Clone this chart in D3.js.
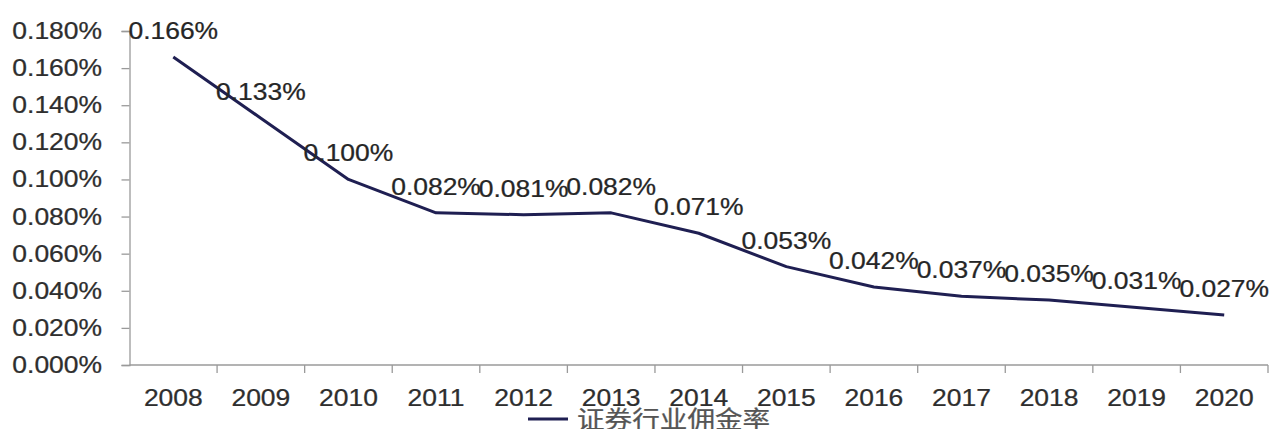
<!DOCTYPE html>
<html>
<head>
<meta charset="utf-8">
<script src="https://cdn.jsdelivr.net/npm/d3@7/dist/d3.min.js"></script>
<style>
  html, body { margin: 0; padding: 0; background: #fff; }
  svg { display: block; }
</style>
</head>
<body>
<svg id="chart" width="1282" height="429"></svg>
<script>
// Commission rate of the securities industry, 2008–2020 (percent)
const years = ["2008","2009","2010","2011","2012","2013","2014","2015","2016","2017","2018","2019","2020"];
const rates = [0.166, 0.133, 0.100, 0.082, 0.081, 0.082, 0.071, 0.053, 0.042, 0.037, 0.035, 0.031, 0.027];
const yTicks = [0, 0.02, 0.04, 0.06, 0.08, 0.10, 0.12, 0.14, 0.16, 0.18];
const seriesName = "证券行业佣金率";

const svg = d3.select("#chart");
const W = 1282, H = 429;
const plotLeft = 129.5, plotRight = 1268, plotTop = 31, plotBottom = 365;
const stretch = 1.15;          // glyphs are drawn slightly wide
const fontFamily = "'Liberation Sans', Arial, sans-serif";
const fontSize = 23;

svg.append("rect").attr("width", W).attr("height", H).attr("fill", "#fff");

const x = d3.scaleBand().domain(years).range([plotLeft, plotRight]).padding(0);
const y = d3.scaleLinear().domain([0, 0.18]).range([plotBottom, plotTop]);

// helper for horizontally widened text
function wideText(g, tx, ty, str, anchor, fill, family, size) {
  return g.append("text")
    .attr("transform", `translate(${tx},${ty}) scale(${stretch},1)`)
    .attr("text-anchor", anchor)
    .attr("font-family", family || fontFamily)
    .attr("font-size", size || fontSize)
    .attr("fill", fill)
    .attr("stroke", fill)
    .attr("stroke-width", 0.25)
    .text(str);
}

// Y axis
const yAxis = svg.append("g").attr("transform", `translate(${plotLeft},0)`)
  .call(d3.axisLeft(y).tickValues(yTicks).tickSize(8).tickFormat(""));
yAxis.select(".domain").attr("stroke", "#9a9a9a").attr("stroke-width", 1.3);
yAxis.selectAll(".tick line").attr("stroke", "#9a9a9a").attr("stroke-width", 1.3);
const yLab = svg.append("g");
yTicks.forEach(v => {
  wideText(yLab, 102, y(v) + 8, d3.format(".3f")(v) + "%", "end", "#2e2e2e");
});

// X axis: ticks sit on band boundaries
const xAxisG = svg.append("g");
xAxisG.append("line")
  .attr("x1", plotLeft).attr("x2", plotRight).attr("y1", plotBottom).attr("y2", plotBottom)
  .attr("stroke", "#9a9a9a").attr("stroke-width", 1.3);
const bounds = years.map(d => x(d)).concat([x(years[years.length - 1]) + x.bandwidth()]);
bounds.slice(1).forEach(bx => {
  xAxisG.append("line")
    .attr("x1", bx).attr("x2", bx).attr("y1", plotBottom).attr("y2", plotBottom + 8)
    .attr("stroke", "#9a9a9a").attr("stroke-width", 1.3);
});
years.forEach(yr => {
  wideText(xAxisG, x(yr) + x.bandwidth() / 2, 406, yr, "middle", "#2e2e2e");
});

// Series line
const line = d3.line()
  .x((d, i) => x(years[i]) + x.bandwidth() / 2)
  .y(d => y(d))
  .curve(d3.curveLinear);
svg.append("path")
  .datum(rates)
  .attr("d", line)
  .attr("fill", "none")
  .attr("stroke", "#1f1f52")
  .attr("stroke-width", 3)
  .attr("stroke-linejoin", "round");

// Value labels above each point
const labels = svg.append("g");
rates.forEach((v, i) => {
  wideText(labels, x(years[i]) + x.bandwidth() / 2, y(v) - 18, d3.format(".3f")(v) + "%", "middle", "#262626");
});

// Legend
const leg = svg.append("g");
leg.append("line")
  .attr("x1", 528).attr("x2", 568).attr("y1", 419).attr("y2", 419)
  .attr("stroke", "#1f1f52").attr("stroke-width", 3);
wideText(leg, 577, 428, seriesName, "start", "#555", "'Noto Sans CJK SC', sans-serif", 24);
</script>
</body>
</html>
